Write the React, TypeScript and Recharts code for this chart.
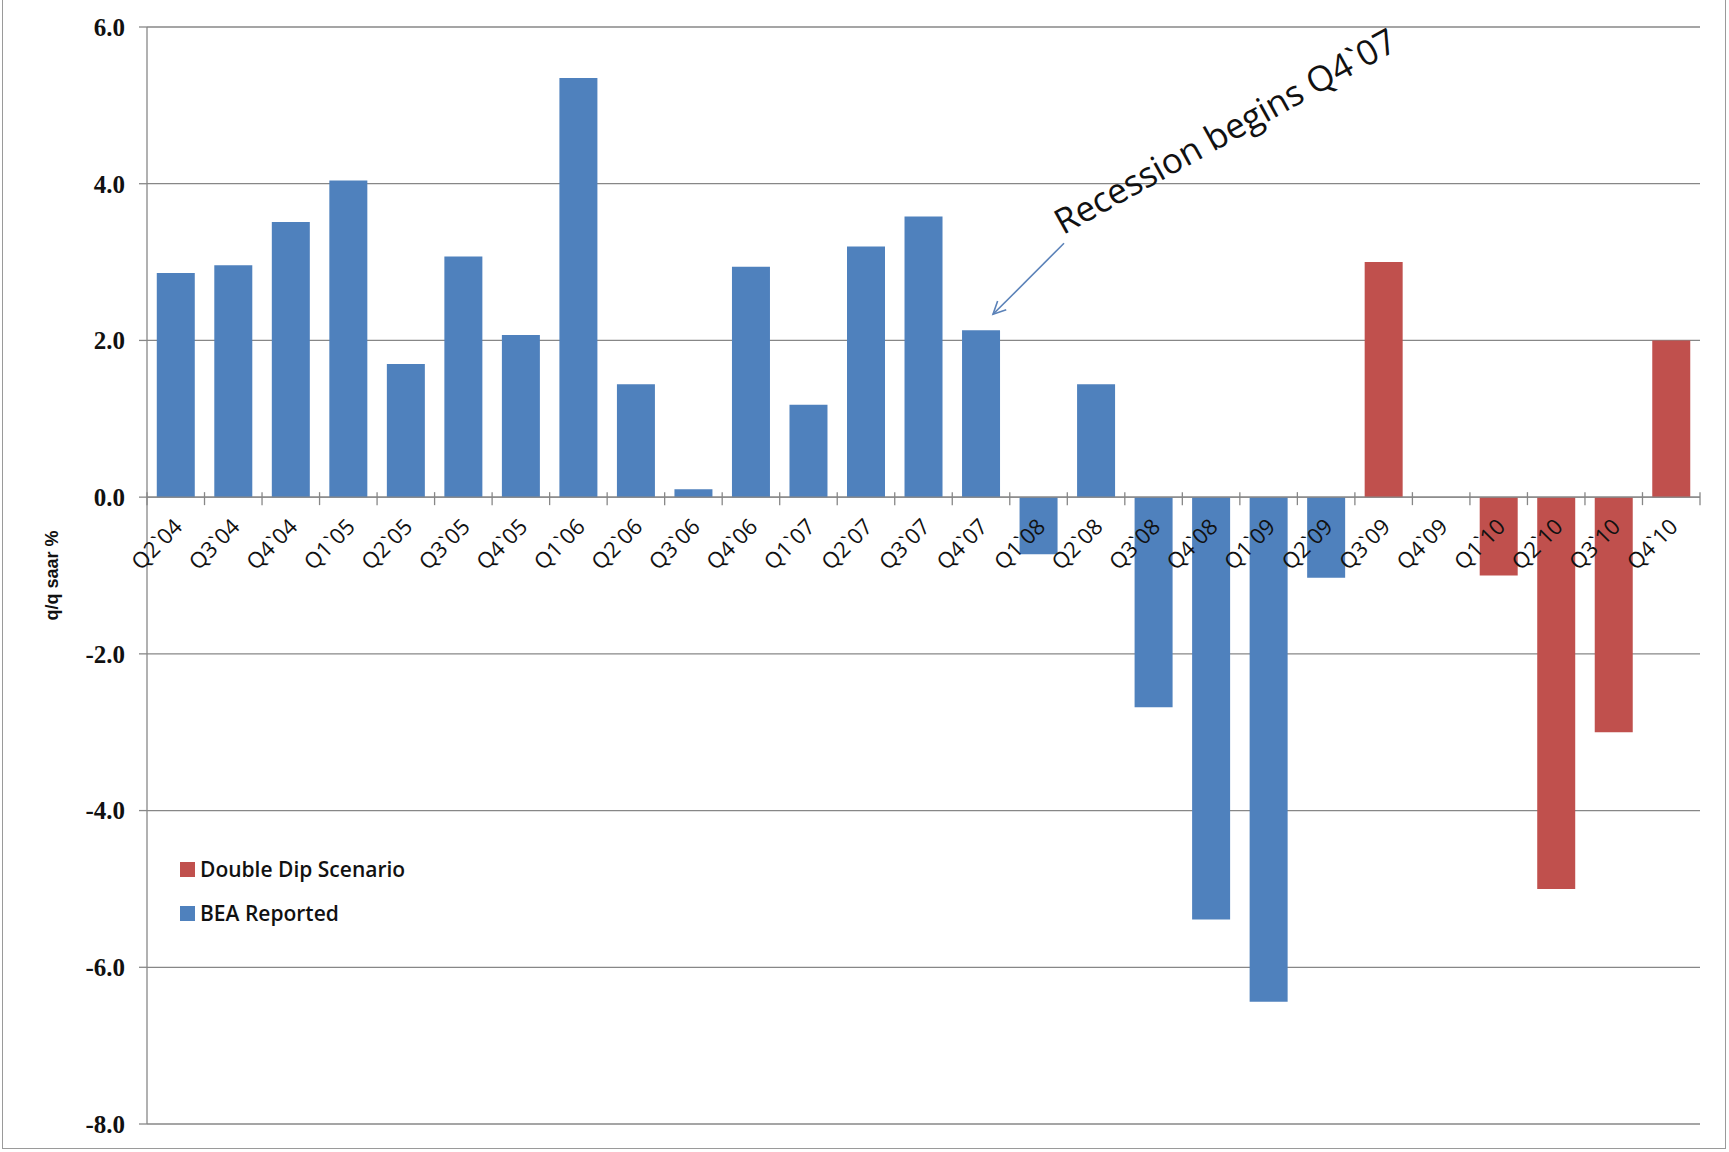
import React from 'react';
import { BarChart, Bar, XAxis, YAxis, CartesianGrid, ReferenceLine, ReferenceDot } from 'recharts';

const categories = [
  'Q2`04', 'Q3`04', 'Q4`04',
  'Q1`05', 'Q2`05', 'Q3`05', 'Q4`05',
  'Q1`06', 'Q2`06', 'Q3`06', 'Q4`06',
  'Q1`07', 'Q2`07', 'Q3`07', 'Q4`07',
  'Q1`08', 'Q2`08', 'Q3`08', 'Q4`08',
  'Q1`09', 'Q2`09', 'Q3`09', 'Q4`09',
  'Q1`10', 'Q2`10', 'Q3`10', 'Q4`10',
];

// BEA reported GDP growth, q/q saar %
const beaReported: (number | null)[] = [
  2.86, 2.96, 3.51,
  4.04, 1.70, 3.07, 2.07,
  5.35, 1.44, 0.10, 2.94,
  1.18, 3.20, 3.58, 2.13,
  -0.73, 1.44, -2.68, -5.39,
  -6.44, -1.03, null, null,
  null, null, null, null,
];

// Projected double-dip path
const doubleDip: (number | null)[] = [
  null, null, null,
  null, null, null, null,
  null, null, null, null,
  null, null, null, null,
  null, null, null, null,
  null, null, 3.0, null,
  -1.0, -5.0, -3.0, 2.0,
];

const yTicks = [-8, -6, -4, -2, 0, 2, 4, 6];

const recessionStart = 'Q4`07';
const recessionNote = 'Recession begins Q4`07';

const BLUE = '#4F81BD';
const RED = '#C0504D';
const GRID = '#878787';

const W = 1729;
const H = 1152;
const MARGIN = { top: 27, right: 29, bottom: 28, left: 0 };
const Y_AXIS_W = 147;
const BAND = (W - MARGIN.left - MARGIN.right - Y_AXIS_W) / categories.length;

const data = categories.map((q, i) => ({ q, bea: beaReported[i], dd: doubleDip[i] }));

const CalibriLike = '"Open Sans", "Noto Sans", sans-serif';

const CategoryTick = ({ cx, cy, label, first }: any) => {
  const lx = cx + 8;
  const ly = cy + 31;
  return (
    <g>
      {first && <line x1={cx - BAND / 2} x2={cx - BAND / 2} y1={cy - 5} y2={cy + 8} stroke={GRID} strokeWidth={1.3} />}
      <line x1={cx + BAND / 2} x2={cx + BAND / 2} y1={cy - 5} y2={cy + 8} stroke={GRID} strokeWidth={1.3} />
      <text
        x={lx}
        y={ly}
        transform={`rotate(-45 ${lx} ${ly})`}
        textAnchor="end"
        fontFamily={CalibriLike}
        fontSize={22}
        fill="#111"
      >
        {label}
      </text>
    </g>
  );
};

const RecessionArrow = ({ cx, cy }: any) => {
  const tipX = cx + 12;
  const tipY = cy - 16;
  const startX = cx + 83;
  const startY = cy - 87;
  const ang = Math.atan2(startY - tipY, startX - tipX);
  const head = 14;
  const spread = 0.45;
  const h1x = tipX + head * Math.cos(ang + spread);
  const h1y = tipY + head * Math.sin(ang + spread);
  const h2x = tipX + head * Math.cos(ang - spread);
  const h2y = tipY + head * Math.sin(ang - spread);
  const tx = cx + 82;
  const ty = cy - 95;
  return (
    <g>
      <line x1={startX} y1={startY} x2={tipX} y2={tipY} stroke="#5B82B8" strokeWidth={1.6} />
      <polyline points={`${h1x},${h1y} ${tipX},${tipY} ${h2x},${h2y}`} fill="none" stroke="#5B82B8" strokeWidth={1.6} />
      <text
        x={tx}
        y={ty}
        transform={`rotate(-29 ${tx} ${ty})`}
        fontFamily={CalibriLike}
        fontSize={35}
        fill="#111"
      >
        {recessionNote}
      </text>
    </g>
  );
};

const legendItems = [
  { name: 'Double Dip Scenario', color: RED },
  { name: 'BEA Reported', color: BLUE },
];

const LegendBox = () => (
  <div style={{ position: 'absolute', left: 180, top: 847 }}>
    {legendItems.map((item) => (
      <div key={item.name} style={{ display: 'flex', alignItems: 'center', height: 44 }}>
        <span style={{ display: 'inline-block', width: 15, height: 15, background: item.color, marginRight: 5 }} />
        <span style={{ fontFamily: CalibriLike, fontWeight: 600, fontSize: 21, color: '#111' }}>{item.name}</span>
      </div>
    ))}
  </div>
);

const YLabel = ({ viewBox }: any) => {
  const x = viewBox.x + 52;
  const y = viewBox.y + viewBox.height / 2;
  return (
    <text
      x={x}
      y={y}
      transform={`rotate(-90 ${x} ${y})`}
      textAnchor="middle"
      dominantBaseline="central"
      fontFamily='"Liberation Sans", Arial, sans-serif'
      fontWeight="bold"
      fontSize={18}
      fill="#111"
    >
      q/q saar %
    </text>
  );
};

const App: React.FC = () => {
  return (
    <div style={{ position: 'absolute', left: 0, top: 0, width: W, height: H, background: '#fff' }}>
      <BarChart width={W} height={H} data={data} margin={MARGIN} barCategoryGap="17%" stackOffset="sign">
        <CartesianGrid vertical={false} stroke={GRID} strokeWidth={1.3} />
        <XAxis dataKey="q" hide />
        <YAxis
          width={Y_AXIS_W}
          domain={[-8, 6]}
          ticks={yTicks}
          interval={0}
          tickFormatter={(v: number) => v.toFixed(1)}
          tick={{ fontFamily: '"Liberation Serif", serif', fontWeight: 'bold', fontSize: 25, fill: '#111' }}
          tickSize={8}
          tickMargin={14}
          axisLine={{ stroke: GRID, strokeWidth: 1.3 }}
          tickLine={{ stroke: GRID, strokeWidth: 1.3 }}
          label={{ content: YLabel }}
        />
        <Bar dataKey="bea" stackId="gdp" fill={BLUE} isAnimationActive={false} />
        <Bar dataKey="dd" stackId="gdp" fill={RED} isAnimationActive={false} />
        <ReferenceLine y={0} stroke={GRID} strokeWidth={1.3} />
        {categories.map((q, i) => (
          <ReferenceDot
            key={q}
            x={q}
            y={0}
            r={0}
            ifOverflow="visible"
            shape={(p: any) => <CategoryTick cx={p.cx} cy={p.cy} label={q} first={i === 0} />}
          />
        ))}
        <ReferenceDot
          x={recessionStart}
          y={beaReported[categories.indexOf(recessionStart)] as number}
          r={0}
          ifOverflow="visible"
          shape={(p: any) => <RecessionArrow cx={p.cx} cy={p.cy} />}
        />
      </BarChart>
      <LegendBox />
      <div
        style={{
          position: 'absolute',
          left: 2,
          top: -2,
          width: 1724,
          height: 1151,
          border: '1.5px solid #9a9a9a',
          boxSizing: 'border-box',
          pointerEvents: 'none',
        }}
      />
    </div>
  );
};

export default App;
